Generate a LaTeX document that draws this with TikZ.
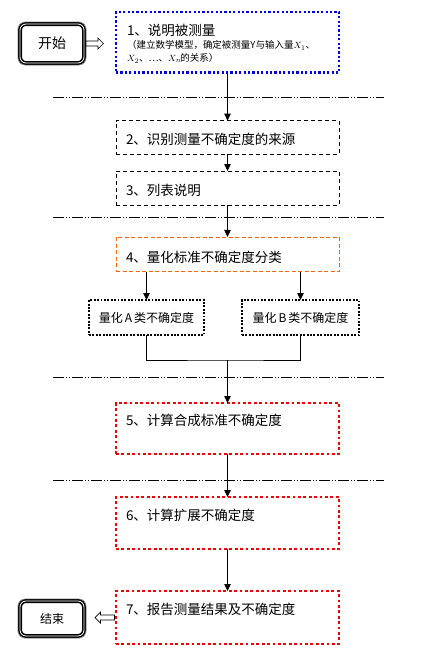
\documentclass[tikz,border=0pt]{standalone}
\usepackage{fontspec}
\setmainfont{Noto Sans CJK SC}
\usetikzlibrary{arrows.meta,calc}
\definecolor{myorange}{RGB}{255,102,0}
\definecolor{myblue}{RGB}{0,0,230}
\definecolor{myred}{RGB}{240,0,0}
\tikzset{
  every node/.style={inner sep=0pt, outer sep=0pt},
  bluebox/.style={draw=myblue, line width=2.2pt, dash pattern=on 2.2pt off 2.2pt, rectangle},
  dashbox/.style={draw=black, line width=0.8pt, dash pattern=on 4pt off 3pt, rectangle},
  orangebox/.style={draw=myorange, line width=0.9pt, dash pattern=on 4pt off 2.5pt, rectangle},
  dotbox/.style={draw=black, line width=1.9pt, dash pattern=on 1.9pt off 1.5pt, rectangle},
  redbox/.style={draw=myred, line width=2.8pt, dash pattern=on 2.8pt off 2.6pt, rectangle},
  termbox/.style={draw=black, line width=4pt, rounded corners=6pt, rectangle},
  txt/.style={anchor=west, font=\fontsize{13.5}{16}\selectfont},
  small/.style={anchor=west, font=\fontsize{9.5}{12}\selectfont},
  arr/.style={-{Triangle[length=7pt,width=6.5pt]}, line width=0.8pt},
  sep/.style={line width=0.9pt, dash pattern=on 10.5pt off 2.5pt on 1pt off 1.5pt on 1pt off 2.5pt},
  hollow/.style={draw=black, line width=0.7pt, fill=white},
}
\begin{document}
\begin{tikzpicture}[x=1pt,y=-1pt]
\useasboundingbox (0,0) rectangle (437,665);
\fill[white] (0,0) rectangle (437,665);

% separators
\draw[sep] (53,97) -- (384,97);
\draw[sep] (53,217.7) -- (384,217.7);
\draw[sep] (53,377) -- (384,377);
\draw[sep] (53,480) -- (384,480);

% terminals
\node[termbox, minimum width=64pt, minimum height=39pt] (start) at (52,43.5) {};
\draw[white, line width=0.8pt, rounded corners=6pt] (start.north west) rectangle (start.south east);
\draw[gray, line width=0.5pt, rounded corners=7.5pt] ([shift={(-2.2,-2.2)}]start.north west) rectangle ([shift={(2.2,2.2)}]start.south east);
\node[font=\fontsize{14}{16}\selectfont] (starttxt) at (start.center) {开始};

\node[termbox, minimum width=64pt, minimum height=35pt] (end) at (52,618.5) {};
\draw[white, line width=0.8pt, rounded corners=6pt] (end.north west) rectangle (end.south east);
\draw[gray, line width=0.5pt, rounded corners=7.5pt] ([shift={(-2.2,-2.2)}]end.north west) rectangle ([shift={(2.2,2.2)}]end.south east);
\node[font=\fontsize{12}{14}\selectfont] (endtxt) at (end.center) {结束};

% main boxes
\node[bluebox, minimum width=223pt, minimum height=60.5pt] (b1) at (227.5,42.3) {};
\node[txt] (t1) at (127,30) {1、说明被测量};
\node[small] (t1a) at (127,45.5) {（建立数学模型，确定被测量Y与输入量$X_{1}$、};
\node[small] (t1b) at (127,58.5) {$X_{2}$、…、$X_{n}$\kern-1pt 的关系）};

\node[dashbox, minimum width=223pt, minimum height=33.3pt] (b2) at (227.5,137.3) {};
\node[txt] (t2) at (126,139) {2、识别测量不确定度的来源};

\node[dashbox, minimum width=223pt, minimum height=34pt] (b3) at (227.5,188) {};
\node[txt] (t3) at (126,190) {3、列表说明};

\node[orangebox, minimum width=223pt, minimum height=34.7pt] (b4) at (227.5,254.3) {};
\node[txt] (t4) at (126,257) {4、量化标准不确定度分类};

\node[dotbox, minimum width=115pt, minimum height=35pt] (bA) at (146.5,317.5) {};
\node[font=\fontsize{12}{14}\selectfont] (tA) at (bA.center) {量化\,A\,类不确定度};
\node[dotbox, minimum width=117pt, minimum height=35pt] (bB) at (300.5,317.5) {};
\node[font=\fontsize{12}{14}\selectfont] (tB) at (bB.center) {量化\,B\,类不确定度};

\node[redbox, minimum width=223pt, minimum height=51pt] (b5) at (227.5,428.5) {};
\node[txt] (t5) at (126,420) {5、计算合成标准不确定度};

\node[redbox, minimum width=223pt, minimum height=52pt] (b6) at (227.5,523) {};
\node[txt] (t6) at (126,515.5) {6、计算扩展不确定度};

\node[redbox, minimum width=223pt, minimum height=53pt] (b7) at (227.5,617.5) {};
\node[txt] (t7) at (126,609.5) {7、报告测量结果及不确定度};

% connectors
\draw[arr] (b1.south) -- (b2.north);
\draw[arr] (b2.south) -- (b3.north);
\draw[arr] (b3.south) -- (b4.north);
\draw[arr] (bA.north |- b4.south) -- (bA.north);
\draw[arr] (bB.north |- b4.south) -- (bB.north);
\coordinate (j) at (227.5,360);
\draw[line width=0.8pt] (bA.south) |- (j) -| (bB.south);
\draw[arr] (j) -- (b5.north);
\draw[arr] (b5.south) -- (b6.north);
\draw[arr] (b6.south) -- (b7.north);

% hollow arrows
\draw[hollow] ($(start.east)+(2,-2.5)$) -- ++(12,0) -- ++(0,-3) -- ++(5.5,5.5) -- ++(-5.5,5.5) -- ++(0,-3) -- ++(-12,0) -- cycle;
\draw[hollow] ($(b7.west)+(-1.5,-2.5)$) -- ++(-14,0) -- ++(0,-3) -- ++(-5.5,5.5) -- ++(5.5,5.5) -- ++(0,-3) -- ++(14,0) -- cycle;
\end{tikzpicture}
\end{document}
